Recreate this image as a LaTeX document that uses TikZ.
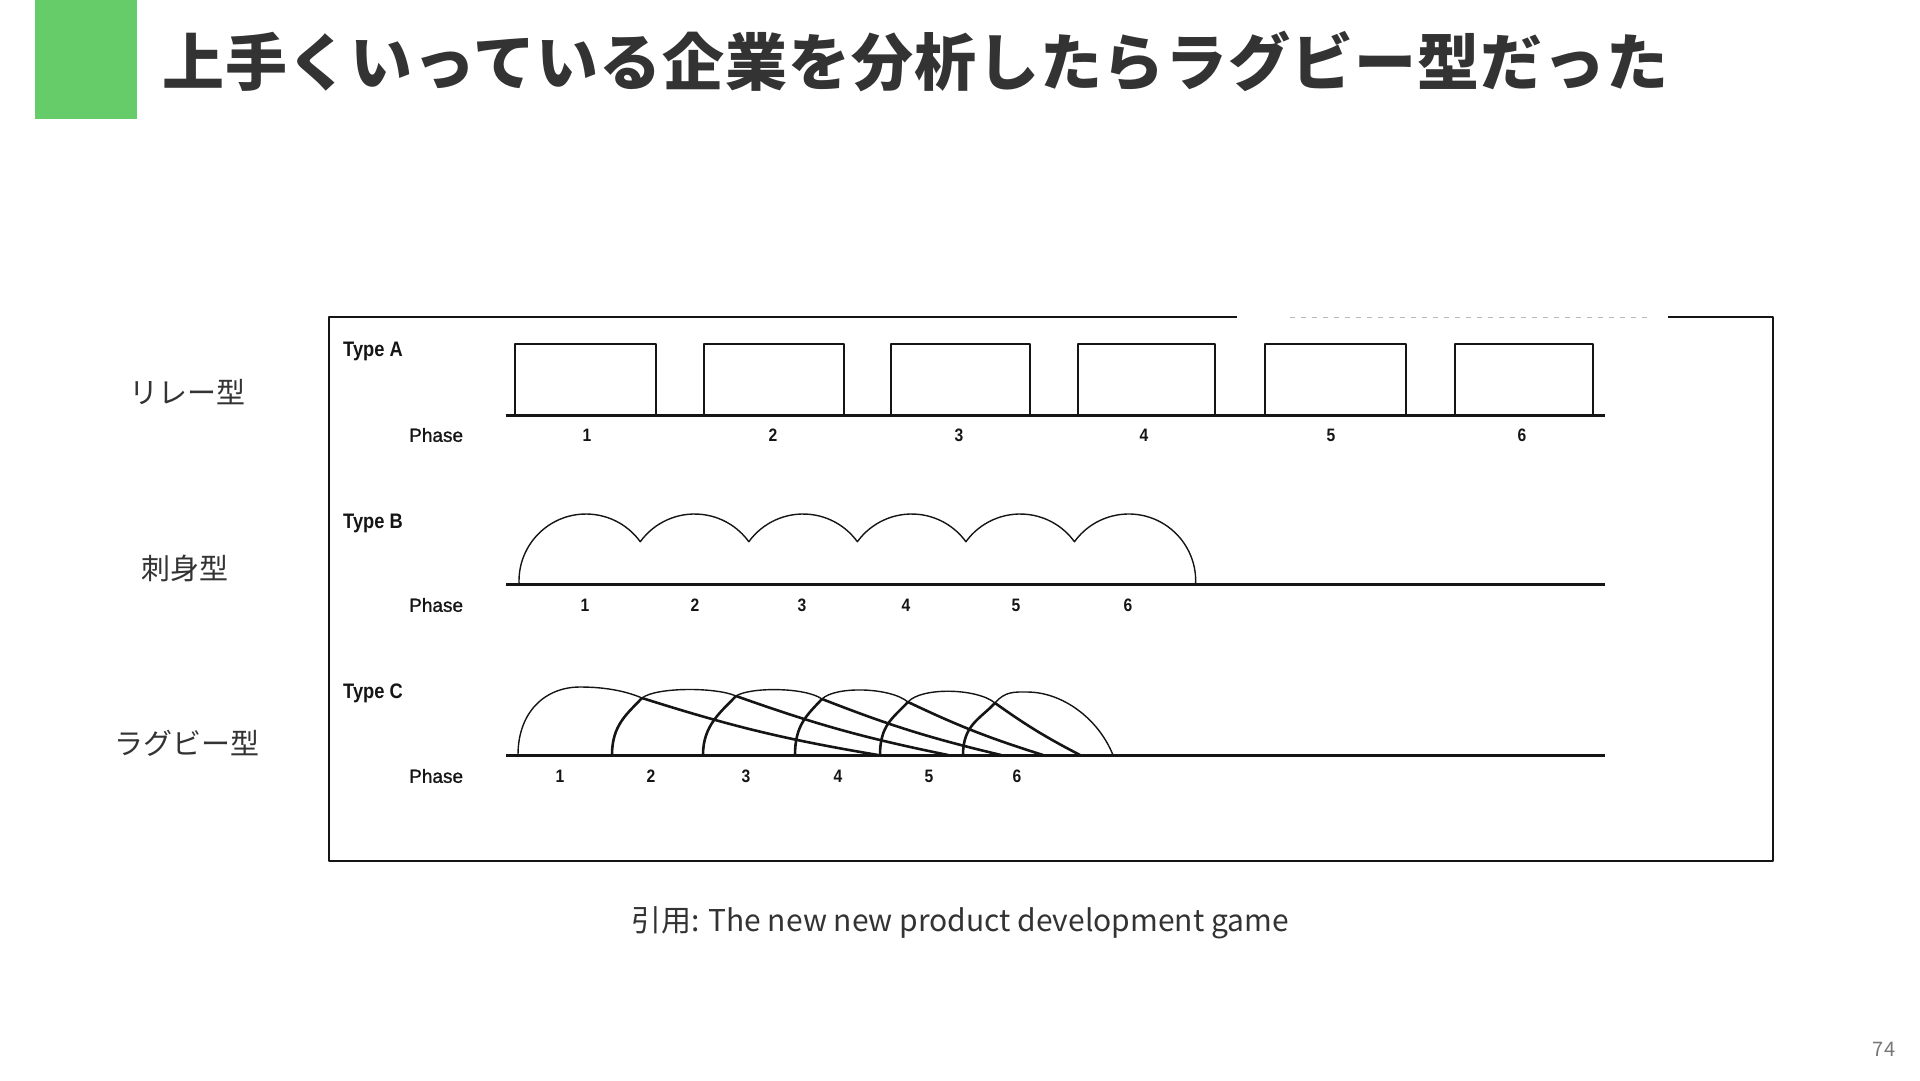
\documentclass[tikz,border=0pt]{standalone}
\usepackage{fontspec}
\setmainfont{Noto Sans CJK JP}
\newfontfamily\titlefont{Noto Sans CJK JP}[LetterSpace=1.5]
\newfontfamily\scanfont{Liberation Sans}[FakeBold=1.2]
\newfontfamily\scanbold{Liberation Sans}[FakeStretch=0.87]

\definecolor{slidegreen}{HTML}{66CC6A}
\definecolor{slidetext}{HTML}{333333}
\definecolor{pagegray}{HTML}{777777}
\definecolor{scanink}{HTML}{151515}

\tikzset{
  typelabel/.style={anchor=west, inner sep=0pt, text=scanink, font=\scanbold\bfseries\fontsize{21}{21}\selectfont},
  phaselabel/.style={anchor=west, inner sep=0pt, text=scanink, font=\scanfont\fontsize{19}{19}\selectfont},
  phasenum/.style={inner sep=0pt, text=scanink, font=\scanbold\bfseries\fontsize{18}{18}\selectfont},
  sidelabel/.style={inner sep=0pt, text=slidetext, font=\fontsize{29}{29}\selectfont},
  timeline/.style={draw=scanink, line width=3pt},
  thinline/.style={draw=scanink, line width=1.4pt},
  thickline/.style={draw=scanink, line width=2.6pt}
}

\begin{document}
\begin{tikzpicture}[x=1pt,y=-1pt,line join=round]
  \useasboundingbox (0,0) rectangle (1920,1080);
  \fill[slidegreen] (35,0) rectangle (137,119);
  \node[anchor=west, inner sep=0pt, text=slidetext, font=\titlefont\bfseries\fontsize{62}{62}\selectfont] (title) at (162,61) {上手くいっている企業を分析したらラグビー型だった};

  % side labels
  \node[sidelabel] (relay) at (187,392) {リレー型};
  \node[sidelabel] (sashimi) at (185,568) {刺身型};
  \node[sidelabel] (rugby) at (187,743) {ラグビー型};

  % scanned figure frame
  \draw[draw=scanink, line width=1.5pt] (1237,317) -- (329,317) -- (329,861) -- (1773,861) -- (1773,317) -- (1668,317);
  \draw[draw=scanink!30, line width=1pt, dash pattern=on 5pt off 6pt] (1290,317) -- (1650,317);

  % Type A
  \node[typelabel] (typeA) at (343,351) {Type A};
  \node[phaselabel] (phaseA) at (409,435) {Phase};
  \draw[timeline] (506,415) -- (1605,415);
  \foreach \l/\r [count=\i] in {515/656, 704/844, 891/1030, 1078/1215, 1265/1406, 1455/1593}{
    \draw[thinline] (\l,415) |- (\r,344) -- (\r,415);
  }
  \foreach \x [count=\i] in {587, 773, 959, 1144, 1331, 1522}
    \node[phasenum] (numA\i) at (\x,435) {\i};

  % Type B
  \node[typelabel] (typeB) at (343,523) {Type B};
  \node[phaselabel] (phaseB) at (409,605) {Phase};
  \draw[timeline] (506,584) -- (1605,584);
  \draw[thinline] (586,581) ++(177.4:67)
    arc[start angle=177.4, end angle=324.1, radius=67]
    arc[start angle=215.9, end angle=324.1, radius=67]
    arc[start angle=215.9, end angle=324.1, radius=67]
    arc[start angle=215.9, end angle=324.1, radius=67]
    arc[start angle=215.9, end angle=324.1, radius=67]
    arc[start angle=215.9, end angle=362.6, radius=67];
  \foreach \x [count=\i] in {585, 695, 802, 906, 1016, 1128}
    \node[phasenum] (numB\i) at (\x,605) {\i};

  % Type C
  \node[typelabel] (typeC) at (343,693) {Type C};
  \node[phaselabel] (phaseC) at (409,776) {Phase};
  \draw[timeline] (506,755) -- (1605,755);
  \coordinate (J1) at (642,698);
  \coordinate (J2) at (736,696);
  \coordinate (J3) at (822,699);
  \coordinate (J4) at (908,702);
  \coordinate (J5) at (995,703);
  % domes
  \draw[thinline] (518,755) .. controls (518,712) and (545,687) .. (580,687)
    .. controls (608,687) and (628,692) .. (J1)
    .. controls (656,687) and (716,687) .. (J2)
    .. controls (750,687) and (805,687) .. (J3)
    .. controls (835,686) and (890,687) .. (J4)
    .. controls (921,687) and (977,688) .. (J5)
    .. controls (1005,691) and (1015,692) .. (1027,692)
    .. controls (1062,692) and (1098,718) .. (1113,755);
  % left edges of phases 2-6
  \foreach \f/\j in {612/J1, 703/J2, 795/J3, 880/J4, 963/J5}
    \draw[thickline] (\f,755) .. controls (\f,725) and ([shift={(-15,16)}]\j) .. (\j);
  % right edges
  \foreach \j/\e in {J1/878, J2/948, J3/1001, J4/1043, J5/1080}
    \draw[thickline] (\j) to[bend right=4] (\e,755);
  \foreach \x [count=\i] in {560, 651, 746, 838, 929, 1017}
    \node[phasenum] (numC\i) at (\x,776) {\i};

  \node[text=slidetext, inner sep=0pt, font=\fontsize{30}{30}\selectfont] (source) at (960,923) {引用: The new new product development game};
  \node[text=pagegray, inner sep=0pt, font=\fontsize{20}{20}\selectfont] (pagenum) at (1884,1049) {74};
\end{tikzpicture}
\end{document}
